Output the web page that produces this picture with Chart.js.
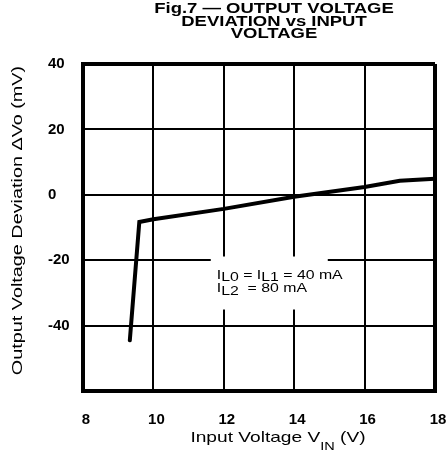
<!DOCTYPE html>
<html><head><meta charset="utf-8">
<script src="https://cdn.jsdelivr.net/npm/chart.js@4.4.1/dist/chart.umd.min.js"></script>
<style>html,body{margin:0;padding:0;background:#fff}canvas{display:block}</style>
</head><body>
<canvas id="c" width="446" height="468"></canvas>
<script>
// ---- data ----
const titleLines = ['Fig.7 — OUTPUT VOLTAGE', 'DEVIATION vs INPUT', 'VOLTAGE'];
const inputVoltage = [9.33, 9.6, 10, 12, 14, 16, 17, 18];
const outputDeviation = [-44.5, -8.3, -7.5, -4.3, -0.6, 2.4, 4.3, 4.9];
const xTicks = [8, 10, 12, 14, 16, 18];
const yTicks = [-60, -40, -20, 0, 20, 40];
const yTickLabels = ['', '-40', '-20', '0', '20', '40'];
const yAxisTitle = 'Output Voltage Deviation ΔVo (mV)';
const xAxisTitle = ['Input Voltage V', 'IN', ' (V)'];
const noteLine1 = ['I', 'L0', ' = I', 'L1', ' = 40 mA'];
const noteLine2 = ['I', 'L2', '  = 80 mA'];
const notePos = { x: 11.8, y: -25.6 };

const FAM = '"Liberation Sans", Arial, sans-serif';
const SX = 1.32;

function drawRun(ctx, x, y, segs) {
  let cx = x;
  for (const s of segs) {
    ctx.font = s.font;
    ctx.save();
    ctx.translate(cx, y + (s.dy || 0));
    ctx.scale(SX, 1);
    ctx.fillText(s.text, 0, 0);
    ctx.restore();
    cx += ctx.measureText(s.text).width * SX;
  }
  return cx - x;
}
function runWidth(ctx, segs) {
  let w = 0;
  for (const s of segs) { ctx.font = s.font; w += ctx.measureText(s.text).width * SX; }
  return w;
}

const textPlugin = {
  id: 'texts',
  beforeDatasetsDraw(chart) {
    const ctx = chart.ctx;
    const xs = chart.scales.x, ys = chart.scales.y;
    ctx.save();
    ctx.textAlign = 'left';
    ctx.textBaseline = 'alphabetic';
    const ax = xs.getPixelForValue(notePos.x);
    const ay = ys.getPixelForValue(notePos.y);
    ctx.fillStyle = '#fff';
    ctx.fillRect(ax - 6, ay - 22, 117, 53);
    ctx.fillStyle = '#000';
    const mf = '12px ' + FAM;
    drawRun(ctx, ax, ay, noteLine1.map((t, i) => ({ text: t, font: mf, dy: i % 2 ? 2.5 : 0 })));
    drawRun(ctx, ax, ay + 13, noteLine2.map((t, i) => ({ text: t, font: mf, dy: i % 2 ? 3 : 0 })));
    ctx.restore();
  },
  afterDraw(chart) {
    const ctx = chart.ctx;
    ctx.save();
    ctx.fillStyle = '#000';
    ctx.textAlign = 'left';
    ctx.textBaseline = 'alphabetic';
    const tf = 'bold 14px ' + FAM;
    const baselines = [13, 25.5, 38];
    titleLines.forEach((line, i) => {
      const segs = [{ text: line, font: tf }];
      const w = runWidth(ctx, segs);
      drawRun(ctx, 274 - w / 2, baselines[i], segs);
    });
    const xf = '14.5px ' + FAM, xsf = '11px ' + FAM;
    const xsegs = [
      { text: xAxisTitle[0], font: xf },
      { text: xAxisTitle[1], font: xsf, dy: 8 },
      { text: xAxisTitle[2], font: xf }
    ];
    const xw = runWidth(ctx, xsegs);
    drawRun(ctx, 278 - xw / 2, 442, xsegs);
    ctx.save();
    ctx.translate(21.5, 220.5);
    ctx.rotate(-Math.PI / 2);
    const ysegs = [{ text: yAxisTitle, font: '15px ' + FAM }];
    const yw = runWidth(ctx, ysegs);
    drawRun(ctx, -yw / 2, 0, ysegs);
    ctx.restore();
    ctx.restore();
  }
};

const edgeW = 4, gridW = 2;

new Chart(document.getElementById('c'), {
  type: 'line',
  data: {
    datasets: [{
      data: inputVoltage.map((v, i) => ({ x: v, y: outputDeviation[i] })),
      borderColor: '#000',
      borderWidth: 4,
      pointRadius: 0,
      tension: 0,
      borderCapStyle: 'round',
      borderJoinStyle: 'miter',
      fill: false
    }]
  },
  options: {
    responsive: false,
    animation: false,
    devicePixelRatio: 1,
    layout: { padding: { left: 48, top: 64, right: 11, bottom: 0 } },
    plugins: { legend: { display: false }, tooltip: { enabled: false }, title: { display: false } },
    scales: {
      x: {
        type: 'linear', min: 8, max: 18,
        afterBuildTicks: s => { s.ticks = xTicks.map(v => ({ value: v })); },
        afterFit: s => { s.height = 77; s.paddingLeft = 0; s.paddingRight = 0; },
        ticks: {
          color: '#000', padding: 20, labelOffset: 3, maxRotation: 0,
          font: { family: FAM, size: 15, weight: 'bold' }
        },
        grid: {
          color: '#000', drawTicks: false,
          lineWidth: c => (c.tick && (c.tick.value === 18 || c.tick.value === 8)) ? edgeW : gridW
        },
        border: { display: true, color: '#000', width: edgeW }
      },
      y: {
        type: 'linear', min: -60, max: 40,
        afterBuildTicks: s => { s.ticks = yTicks.map(v => ({ value: v })); },
        afterFit: s => { s.width = 35; s.paddingTop = 0; s.paddingBottom = 0; },
        ticks: {
          color: '#000', crossAlign: 'far', padding: 0,
          font: { family: FAM, size: 15, weight: 'bold' },
          callback: (v) => yTickLabels[yTicks.indexOf(v)]
        },
        grid: {
          color: '#000', drawTicks: false,
          lineWidth: c => (c.tick && (c.tick.value === 40 || c.tick.value === -60)) ? edgeW : gridW
        },
        border: { display: true, color: '#000', width: edgeW }
      }
    }
  },
  plugins: [textPlugin]
});
</script>
</body></html>
